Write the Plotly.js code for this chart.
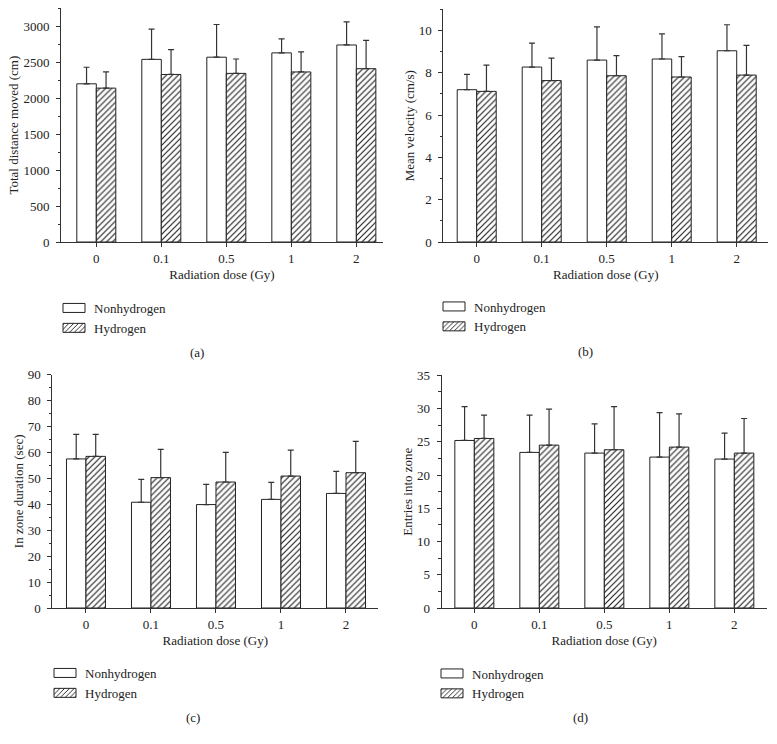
<!DOCTYPE html>
<html>
<head>
<meta charset="utf-8">
<script src="https://cdn.plot.ly/plotly-3.0.1.min.js"></script>
<style>
html,body{margin:0;padding:0;background:#fff;}
#chart{width:777px;height:744px;}
/* flat rectangular legend swatches like the original figure */
#chart g.legendpoints path{ d: path('M11,4.5H-11V-4.5H11Z'); }
</style>
</head>
<body>
<div id="chart"></div>
<script>
// ---------- data ----------
const doses = ['0', '0.1', '0.5', '1', '2'];
const seriesNames = ['Nonhydrogen', 'Hydrogen'];

const distanceNon = [2200, 2540, 2570, 2630, 2740];
const distanceNonSD = [230, 420, 455, 195, 320];
const distanceHyd = [2140, 2330, 2345, 2365, 2410];
const distanceHydSD = [225, 345, 200, 280, 395];

const velocityNon = [7.20, 8.27, 8.60, 8.65, 9.04];
const velocityNonSD = [0.72, 1.13, 1.57, 1.19, 1.23];
const velocityHyd = [7.12, 7.63, 7.86, 7.80, 7.89];
const velocityHydSD = [1.24, 1.06, 0.95, 0.96, 1.40];

const durationNon = [57.5, 40.8, 39.9, 41.9, 44.2];
const durationNonSD = [9.5, 8.8, 7.8, 6.6, 8.5];
const durationHyd = [58.5, 50.3, 48.6, 50.9, 52.2];
const durationHydSD = [8.5, 10.9, 11.4, 10.0, 12.1];

const entriesNon = [25.2, 23.4, 23.3, 22.7, 22.4];
const entriesNonSD = [5.1, 5.6, 4.4, 6.7, 3.9];
const entriesHyd = [25.5, 24.5, 23.8, 24.2, 23.3];
const entriesHydSD = [3.5, 5.4, 6.5, 5.0, 5.2];

const yTitles = ['Total distance moved (cm)', 'Mean velocity (cm/s)', 'In zone duration (sec)', 'Entries into zone'];
const xTitle = 'Radiation dose (Gy)';
const panelLabels = ['(a)', '(b)', '(c)', '(d)'];

// ---------- styling / layout ----------
const W = 777, H = 744;
const FONT = 'Liberation Serif, Times New Roman, serif';
const FS = 13;
const INK = '#222';
const AX = '#333';

// pixel boxes of each plot area: [left, right, top, bottom], x range, y range, dtick, minor dtick
const panels = [
  {box: [61, 383, 8.3, 242], xr: [-0.543, 4.41], yr: [0, 3250], dt: 500, mdt: 250,
   non: distanceNon, nonSD: distanceNonSD, hyd: distanceHyd, hydSD: distanceHydSD,
   legend: [54, 293], label: [197, 352]},
  {box: [443.3, 768.3, 9.3, 242], xr: [-0.514, 4.486], yr: [0, 11], dt: 2, mdt: 1,
   non: velocityNon, nonSD: velocityNonSD, hyd: velocityHyd, hydSD: velocityHydSD,
   legend: [434, 291.5], label: [585.7, 351]},
  {box: [52.3, 378.3, 374.7, 608], xr: [-0.518, 4.497], yr: [0, 90], dt: 10, mdt: 5,
   non: durationNon, nonSD: durationNonSD, hyd: durationHyd, hydSD: durationHydSD,
   legend: [45, 658], label: [192.7, 717.5]},
  {box: [441.7, 766.7, 375.3, 608], xr: [-0.502, 4.498], yr: [0, 35], dt: 5, mdt: 2.5,
   non: entriesNon, nonSD: entriesNonSD, hyd: entriesHyd, hydSD: entriesHydSD,
   legend: [432, 658.5], label: [580, 717.7]}
];

const zeros = doses.map(() => 0);
const traces = [];
const layout = {
  width: W, height: H,
  margin: {l: 0, r: 0, t: 0, b: 0},
  paper_bgcolor: '#fff', plot_bgcolor: '#fff',
  font: {family: FONT, size: FS, color: INK},
  barmode: 'group', bargap: 0.4, bargroupgap: 0,
  showlegend: true,
  annotations: []
};

panels.forEach((p, i) => {
  const n = i === 0 ? '' : String(i + 1);
  const xa = 'x' + n, ya = 'y' + n;
  const lg = 'legend' + n;
  const errStyle = {type: 'data', symmetric: false, arrayminus: zeros, color: AX, thickness: 1.2, width: 3};
  traces.push({
    type: 'bar', name: seriesNames[0], x: doses, y: p.non,
    xaxis: xa, yaxis: ya, legend: lg,
    marker: {color: '#fff', line: {color: INK, width: 1}},
    error_y: Object.assign({array: p.nonSD}, errStyle)
  });
  traces.push({
    type: 'bar', name: seriesNames[1], x: doses, y: p.hyd,
    xaxis: xa, yaxis: ya, legend: lg,
    marker: {color: '#fff', line: {color: INK, width: 1},
      pattern: {shape: '/', fgcolor: INK, bgcolor: '#fff', size: 4.2, solidity: 0.28}},
    error_y: Object.assign({array: p.hydSD}, errStyle)
  });
  const [l, r, t, b] = p.box;
  layout['xaxis' + n] = {
    domain: [l / W, r / W], anchor: ya, type: 'category', range: p.xr,
    showline: true, linecolor: AX, linewidth: 1, mirror: false,
    ticks: 'outside', ticklen: 4, tickcolor: AX, tickwidth: 1,
    showgrid: false, zeroline: false, automargin: false, fixedrange: true,
    tickfont: {family: FONT, size: FS, color: INK},
    title: {text: xTitle, font: {family: FONT, size: FS, color: INK}, standoff: 5}
  };
  layout['yaxis' + n] = {
    domain: [1 - b / H, 1 - t / H], anchor: xa, range: p.yr, dtick: p.dt, tick0: 0,
    showline: true, linecolor: AX, linewidth: 1, mirror: false,
    ticks: 'outside', ticklen: 4, tickcolor: AX, tickwidth: 1, ticklabelstandoff: 4,
    minor: {dtick: p.mdt, ticks: 'outside', ticklen: 2.5, tickcolor: AX, tickwidth: 1, showgrid: false},
    showgrid: false, zeroline: false, automargin: false, fixedrange: true,
    tickfont: {family: FONT, size: FS, color: INK},
    title: {text: yTitles[i], font: {family: FONT, size: FS, color: INK}, standoff: 1}
  };
  layout[lg] = {
    x: p.legend[0] / W, y: 1 - p.legend[1] / H, xanchor: 'left', yanchor: 'top',
    bgcolor: 'rgba(0,0,0,0)', borderwidth: 0, traceorder: 'normal',
    font: {family: FONT, size: FS, color: INK}
  };
  layout.annotations.push({
    text: panelLabels[i], xref: 'paper', yref: 'paper',
    x: p.label[0] / W, y: 1 - p.label[1] / H, xanchor: 'center', yanchor: 'middle',
    showarrow: false, font: {family: FONT, size: FS, color: INK}
  });
});

function widenSwatches(gd) {
  gd.querySelectorAll('g.legendpoints path').forEach(el => {
    el.setAttribute('d', 'M11,4.5H-11V-4.5H11Z');
  });
}
Plotly.newPlot('chart', traces, layout, {staticPlot: true, displayModeBar: false}).then(gd => {
  widenSwatches(gd);
  setTimeout(() => widenSwatches(gd), 0);
});
</script>
</body>
</html>
